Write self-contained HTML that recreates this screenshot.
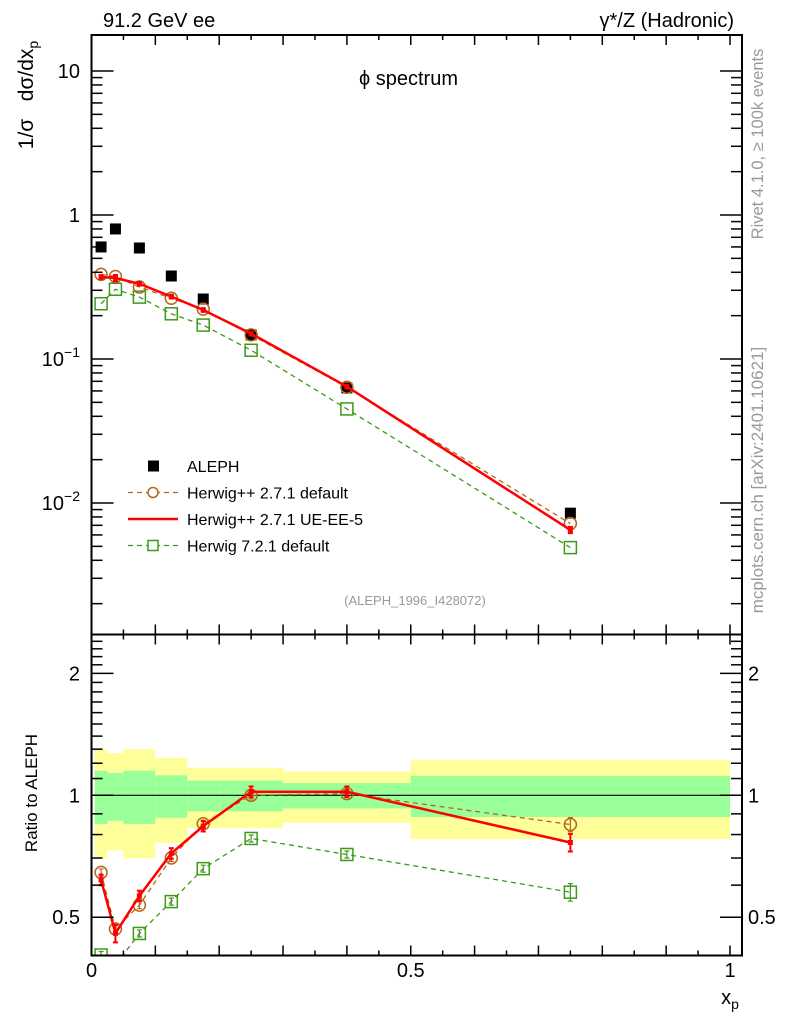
<!DOCTYPE html>
<html><head><meta charset="utf-8"><style>
html,body{margin:0;padding:0;background:#fff;}
svg{display:block;font-family:"Liberation Sans",sans-serif;}
</style></head><body>
<svg id="chart" width="786" height="1024" viewBox="0 0 786 1024" xmlns="http://www.w3.org/2000/svg">
<g id="bands"></g>
<g id="marks"></g>
<g id="axes"></g>
<text x="103" y="27" font-size="20">91.2 GeV ee</text>
<text x="734" y="27" font-size="20" text-anchor="end">γ*/Z (Hadronic)</text>
<text x="359" y="85" font-size="20">ϕ spectrum</text>
<text x="415" y="605" font-size="13" fill="#999" text-anchor="middle">(ALEPH_1996_I428072)</text>
<text transform="translate(33,95) rotate(-90)" font-size="21" text-anchor="middle" xml:space="preserve">1/σ   dσ/dx<tspan font-size="14" dy="5">p</tspan></text>
<text transform="translate(37,793) rotate(-90)" font-size="17" text-anchor="middle">Ratio to ALEPH</text>
<text transform="translate(763,144) rotate(-90)" font-size="16.5" fill="#999" text-anchor="middle">Rivet 4.1.0, ≥ 100k events</text>
<text transform="translate(763,480) rotate(-90)" font-size="17" fill="#999" text-anchor="middle">mcplots.cern.ch [arXiv:2401.10621]</text>
<text x="730" y="1004" font-size="20" text-anchor="middle">x<tspan font-size="14" dy="5">p</tspan></text>
<g id="legend"></g>
</svg>
<script>
// ---- data ----
const xCenters = [0.015, 0.0375, 0.075, 0.125, 0.175, 0.25, 0.4, 0.75];
const binEdges = [0.005, 0.025, 0.05, 0.1, 0.15, 0.2, 0.3, 0.5, 1.0];
const alephValues = [0.60, 0.80, 0.59, 0.377, 0.261, 0.147, 0.063, 0.0085];
const bandStatRel = [0.15, 0.135, 0.15, 0.12, 0.087, 0.087, 0.072, 0.116];
const bandTotRel = [0.30, 0.27, 0.30, 0.237, 0.17, 0.17, 0.145, 0.22];
const hppDefault = [0.387, 0.374, 0.316, 0.264, 0.222, 0.147, 0.0636, 0.0072];
const hppUE = [0.371, 0.365, 0.333, 0.271, 0.219, 0.150, 0.0643, 0.0065];
const h7Default = [0.242, 0.305, 0.269, 0.206, 0.172, 0.115, 0.045, 0.0049];
const hppDefaultErr = [0.02, 0.02, 0.02, 0.02, 0.02, 0.02, 0.02, 0.04];
const hppUEErr = [0.03, 0.05, 0.03, 0.03, 0.03, 0.03, 0.03, 0.05];
const h7Err = [0.02, 0.02, 0.02, 0.02, 0.02, 0.02, 0.02, 0.05];
const mainYTickLabels = ["10^-2", "10^-1", "1", "10"];
const ratioYTickLabels = ["0.5", "1", "2"];
const xTickLabels = ["0", "0.5", "1"];

// ---- geometry ----
const L = 91.5, R = 742, X0 = 91.5, X1 = 730;
const MT = 35, MB = 634.5, RT = 634.5, RB = 955.5;
const sx = v => X0 + v * (X1 - X0);
const syMain = v => 215 - 144 * Math.log10(v);
const syRatio = v => 795.3 - 405 * Math.log10(v);
const NS = "http://www.w3.org/2000/svg";
function mk(tag, attrs, parent) {
  const e = document.createElementNS(NS, tag);
  for (const k in attrs) e.setAttribute(k, attrs[k]);
  parent.appendChild(e); return e;
}
const bands = document.getElementById('bands');
const marks = document.getElementById('marks');
const axes = document.getElementById('axes');
const legend = document.getElementById('legend');

for (let i = 0; i < xCenters.length; i++) {
  const x0 = sx(binEdges[i]), x1 = sx(binEdges[i + 1]);
  const y = mk('rect', {x: x0, y: syRatio(1 + bandTotRel[i]), width: x1 - x0, height: syRatio(1 - bandTotRel[i]) - syRatio(1 + bandTotRel[i]), fill: '#ffff99'}, bands);
  
  
  const g = mk('rect', {x: x0, y: syRatio(1 + bandStatRel[i]), width: x1 - x0, height: syRatio(1 - bandStatRel[i]) - syRatio(1 + bandStatRel[i]), fill: '#99ff99'}, bands);
  
  
}
const one = mk('line', {x1: L, x2: R, y1: syRatio(1), y2: syRatio(1), stroke: '#000', 'stroke-width': 1.2}, bands);



const defs = mk('defs', {}, marks);
const c1 = mk('clipPath', {id: 'cm'}, defs); mk('rect', {x: L, y: MT, width: R - L, height: MB - MT}, c1);
const c2 = mk('clipPath', {id: 'cr'}, defs); mk('rect', {x: L, y: RT, width: R - L, height: RB - RT}, c2);
const gm = mk('g', {'clip-path': 'url(#cm)'}, marks);
const gr = mk('g', {'clip-path': 'url(#cr)'}, marks);

function series(vals, errs, color, dash, width, marker, name) {
  const ratio = vals.map((v, i) => v / alephValues[i]);
  [[gm, vals, syMain, false], [gr, ratio, syRatio, true]].forEach(([g, arr, sy, isR]) => {
    const pts = arr.map((v, i) => sx(xCenters[i]) + ',' + sy(v)).join(' ');
    const pl = mk('polyline', {points: pts, fill: 'none', stroke: color, 'stroke-width': width, 'stroke-dasharray': dash}, g);
    
    
    arr.forEach((v, i) => {
      const cx = sx(xCenters[i]), cy = sy(v);
      if (isR || marker === 'dot') {
        const e = errs[i];
        const ya = sy(v * (1 + e)), yb = sy(v * (1 - e));
        const sw = width === 2.5 ? 2 : 1.2;
        const eb = mk('path', {d: `M${cx},${ya}V${yb}M${cx-2.5},${ya}H${cx+2.5}M${cx-2.5},${yb}H${cx+2.5}`, fill: 'none', stroke: color, 'stroke-width': sw}, g);
        
        
      }
      let m;
      if (marker === 'circle') m = mk('circle', {cx, cy, r: 6, fill: 'none', stroke: color, 'stroke-width': 1.5}, g);
      else if (marker === 'square') m = mk('rect', {x: cx - 6, y: cy - 6, width: 12, height: 12, fill: 'none', stroke: color, 'stroke-width': 1.5}, g);
      else m = mk('rect', {x: cx - 2.5, y: cy - 2.5, width: 5, height: 5, fill: color}, g);
      
      
    });
  });
}
alephValues.forEach((v, i) => {
  const s = mk('rect', {x: sx(xCenters[i]) - 5.5, y: syMain(v) - 5.5, width: 11, height: 11, fill: '#000'}, gm);
  
  
});
series(h7Default, h7Err, '#3c9a18', '5,4', 1.3, 'square', 'herwig7-default');
series(hppDefault, hppDefaultErr, '#b5651d', '5,4', 1.3, 'circle', 'herwigpp-default');
series(hppUE, hppUEErr, '#ff0000', 'none', 2.5, 'dot', 'herwigpp-ue-ee-5');

[[MT, MB], [RT, RB]].forEach(([t, b], k) => {
  const f = mk('rect', {x: L, y: t, width: R - L, height: b - t, fill: 'none', stroke: '#000', 'stroke-width': 2}, axes);
  
  
  for (let j = 1; j <= 20; j++) {
    const x = sx(j * 0.05); if (x > R - 2) break;
    const len = j % 2 === 0 ? 10 : 5;
    mk('line', {x1: x, x2: x, y1: t, y2: t + len, stroke: '#000', 'stroke-width': 1.5}, axes);
    mk('line', {x1: x, x2: x, y1: b, y2: b - len, stroke: '#000', 'stroke-width': 1.5}, axes);
  }
});
for (let d = -3; d <= 1; d++) {
  for (let m = 1; m <= 9; m++) {
    const v = m * Math.pow(10, d), y = syMain(v);
    if (y < MT || y > MB) continue;
    const len = m === 1 ? 22 : 11;
    mk('line', {x1: L, x2: L + len, y1: y, y2: y, stroke: '#000', 'stroke-width': 1.5}, axes);
    mk('line', {x1: R, x2: R - len, y1: y, y2: y, stroke: '#000', 'stroke-width': 1.5}, axes);
  }
}
mainYTickLabels.forEach((lab, i) => {
  const y = syMain(Math.pow(10, i - 2));
  const t = mk('text', {x: 80, y: y + 7, 'font-size': 20, 'text-anchor': 'end'}, axes);
  
  
  if (lab.indexOf('^') > 0) {
    const p = lab.split('^');
    t.textContent = p[0];
    const s = mk('tspan', {dy: -9, 'font-size': 14}, t); s.textContent = p[1].replace('-', '−');
  } else t.textContent = lab;
});
for (let k = 4; k <= 24; k++) {
  const v = k / 10, y = syRatio(v);
  if (y < RT + 1 || y > RB - 1) continue;
  const major = (k === 5 || k === 10 || k === 20);
  const len = major ? 22 : 11;
  mk('line', {x1: L, x2: L + len, y1: y, y2: y, stroke: '#000', 'stroke-width': 1.5}, axes);
  mk('line', {x1: R, x2: R - len, y1: y, y2: y, stroke: '#000', 'stroke-width': 1.5}, axes);
}
ratioYTickLabels.forEach(lab => {
  const y = syRatio(parseFloat(lab));
  const t = mk('text', {x: 80, y: y + 7, 'font-size': 20, 'text-anchor': 'end'}, axes);
  t.textContent = lab;
  
  
  const t2 = mk('text', {x: 748, y: y + 7, 'font-size': 20}, axes);
  t2.textContent = lab;
  
  
});
xTickLabels.forEach(lab => {
  const t = mk('text', {x: sx(parseFloat(lab)), y: 977, 'font-size': 20, 'text-anchor': 'middle'}, axes);
  t.textContent = lab;
  
  
});

const legItems = [
  ['ALEPH', 'data', '#000'],
  ['Herwig++ 2.7.1 default', 'circle', '#b5651d'],
  ['Herwig++ 2.7.1 UE-EE-5', 'solid', '#ff0000'],
  ['Herwig 7.2.1 default', 'square', '#3c9a18']
];
legItems.forEach((it, i) => {
  const y = 466 + i * 26.5;
  const g = mk('g', {}, legend);
  
  
  if (it[1] === 'data') mk('rect', {x: 148, y: y - 5.5, width: 11, height: 11, fill: '#000'}, g);
  else if (it[1] === 'solid') mk('line', {x1: 128, x2: 178, y1: y, y2: y, stroke: it[2], 'stroke-width': 2.5}, g);
  else {
    mk('line', {x1: 128, x2: 178, y1: y, y2: y, stroke: it[2], 'stroke-width': 1.3, 'stroke-dasharray': '5,4'}, g);
    if (it[1] === 'circle') mk('circle', {cx: 153, cy: y, r: 5, fill: '#fff', stroke: it[2], 'stroke-width': 1.5}, g);
    else mk('rect', {x: 148, y: y - 5, width: 10, height: 10, fill: '#fff', stroke: it[2], 'stroke-width': 1.5}, g);
  }
  const t = mk('text', {x: 187, y: y + 6, 'font-size': 16}, g);
  t.textContent = it[0];
});
</script>
</body></html>
